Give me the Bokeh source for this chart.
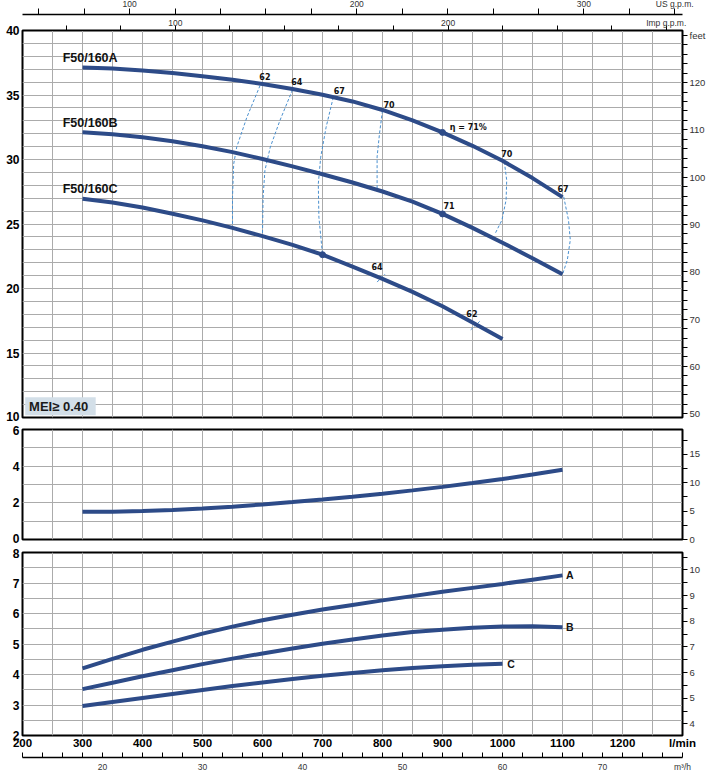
from bokeh.plotting import figure
from bokeh.models import Range1d, LinearAxis, FixedTicker, Label
from bokeh.layouts import column
from bokeh.embed import file_html
from bokeh.resources import INLINE
from bokeh.core.properties import value

# ---------------- data ----------------
flow = [300, 350, 400, 450, 500, 550, 600, 650, 700, 750, 800, 850, 900, 950, 1000, 1050, 1100]
flow_c = flow[:15]

head_a = [37.13, 37.05, 36.90, 36.70, 36.46, 36.18, 35.86, 35.47, 35.02, 34.50, 33.84, 33.04, 32.10, 31.06, 29.90, 28.56, 27.08]
head_b = [32.12, 31.95, 31.72, 31.42, 31.03, 30.57, 30.04, 29.47, 28.86, 28.22, 27.52, 26.73, 25.78, 24.70, 23.55, 22.34, 21.10]
head_c = [26.95, 26.67, 26.28, 25.80, 25.28, 24.70, 24.06, 23.38, 22.62, 21.70, 20.74, 19.74, 18.62, 17.36, 16.08]

power = [1.52, 1.52, 1.55, 1.61, 1.69, 1.79, 1.91, 2.04, 2.18, 2.33, 2.50, 2.68, 2.87, 3.08, 3.30, 3.54, 3.80]

npsh_a = [4.20, 4.51, 4.81, 5.08, 5.34, 5.57, 5.78, 5.96, 6.13, 6.28, 6.43, 6.57, 6.71, 6.84, 6.97, 7.11, 7.25]
npsh_b = [3.52, 3.73, 3.94, 4.14, 4.34, 4.52, 4.69, 4.85, 5.01, 5.15, 5.28, 5.39, 5.47, 5.53, 5.57, 5.58, 5.55]
npsh_c = [2.97, 3.10, 3.23, 3.36, 3.49, 3.62, 3.74, 3.85, 3.96, 4.05, 4.14, 4.21, 4.27, 4.32, 4.35]

curve_names = ["F50/160A", "F50/160B", "F50/160C"]
npsh_names = ["A", "B", "C"]

# iso-efficiency lines (flow l/min, head m)
iso_q = [
    [596, 574, 557, 552, 550, 550],
    [650, 629, 613, 604, 601, 600],
    [718, 706, 697, 693, 694, 700],
    [800, 795, 791, 791],
    [1003, 1007, 1006, 999, 988],
    [1102, 1110, 1113, 1108, 1100],
    [791, 804],
    [947, 962],
]
iso_h = [
    [35.74, 33.28, 30.96, 29.66, 27.08, 24.80],
    [35.40, 33.02, 30.96, 29.15, 27.08, 24.30],
    [34.83, 32.50, 30.18, 28.11, 25.53, 22.64],
    [33.80, 32.00, 30.20, 27.76],
    [29.82, 28.40, 26.86, 25.30, 24.28],
    [27.11, 25.30, 23.76, 22.20, 21.10],
    [20.50, 21.10],
    [16.80, 17.45],
]
eff_text = ["62", "64", "67", "70", "η = 71%", "70", "67", "71", "64", "62"]
eff_q = [604, 657, 728, 811, 943, 1007, 1101, 911, 791, 949]
eff_h = [36.40, 36.03, 35.34, 34.25, 32.50, 30.46, 27.76, 26.44, 21.72, 18.09]

# unit conversions for the secondary scales
IMP_GAL = 4.54609   # litres per Imperial gallon
US_GAL = 3.78541    # litres per US gallon
M3H = 1000 / 60     # l/min per m3/h

# ---------------- styling ----------------
CURVE = "#2d4b88"
ISO = "#4a90cf"
GRID = "#ababab"
SANS = "Liberation Sans"
Q0, Q1 = 200, 1300


def make_fig(height, y0, y1, top, bottom, x_loc=None, **kw):
    p = figure(width=712, height=height, x_range=Range1d(Q0, Q1), y_range=Range1d(y0, y1),
               x_axis_location=x_loc, y_axis_location="left",
               min_border_left=22, min_border_right=30,
               min_border_top=top, min_border_bottom=bottom,
               output_backend="svg", toolbar_location=None, **kw)
    p.outline_line_color = "black"
    p.outline_line_width = 2
    p.background_fill_color = "white"
    p.border_fill_color = "white"
    p.xgrid.ticker = FixedTicker(ticks=list(range(Q0, Q1 + 1, 50)))
    p.xgrid.grid_line_color = GRID
    p.ygrid.grid_line_color = GRID
    return p


def style_left(p, ticks, texts):
    # texts: tick -> label (edge labels are nudged inwards so they stay inside the canvas)
    ax = p.yaxis[0]
    ax.ticker = FixedTicker(ticks=ticks)
    ax.major_label_overrides = texts
    ax.axis_line_color = None
    ax.major_tick_out = 0
    ax.major_tick_in = 0
    ax.minor_tick_line_color = None
    ax.major_label_standoff = 3
    ax.major_label_text_font = SANS
    ax.major_label_text_font_size = "12px"
    ax.major_label_text_font_style = "bold"
    ax.major_label_text_color = "black"


def left_labels(values, nudge):
    ticks, texts = [], {}
    for v in values:
        t = v + nudge.get(v, 0)
        ticks.append(t)
        texts[t] = "%g" % v
    return ticks, texts


def labels_for(ticks, every, last=None):
    d = {}
    for t in ticks:
        d[t] = ("%g" % t) if abs(t / every - round(t / every)) < 1e-9 else ""
    if last is not None:
        d[ticks[-1]] = last
    return d


def style_sec(ax, size="9.5px"):
    ax.major_label_text_font = SANS
    ax.major_label_text_font_size = size
    ax.major_label_text_color = "#333333"
    ax.major_tick_line_color = "black"
    ax.minor_tick_line_color = None


def add_right(p, name, lo, hi, ticks, every, last=None):
    p.extra_y_ranges = {name: Range1d(lo, hi)}
    ax = LinearAxis(y_range_name=name, ticker=FixedTicker(ticks=ticks),
                    major_label_overrides=labels_for(ticks, every, last))
    style_sec(ax)
    ax.major_tick_out = 5
    ax.major_tick_in = 0
    ax.major_label_standoff = 2
    ax.axis_line_color = "black"
    p.add_layout(ax, "right")


# ---------------- head panel ----------------
p1 = make_fig(433, 10, 40, 40, 6, margin=(-10, 0, 0, 0))
style_left(p1, *left_labels(list(range(10, 41, 5)), {10: 0.1}))
p1.ygrid.ticker = FixedTicker(ticks=list(range(10, 41)))
add_right(p1, "ft", 49.2, 131.0, list(range(50, 131, 2)), 10, "feet")

p1.extra_x_ranges = {"imp": Range1d(Q0 / IMP_GAL, Q1 / IMP_GAL), "us": Range1d(Q0 / US_GAL, Q1 / US_GAL)}
imp_ticks = list(range(60, 281, 20))
imp_ax = LinearAxis(x_range_name="imp", ticker=FixedTicker(ticks=imp_ticks),
                    major_label_overrides=labels_for(imp_ticks, 100, "Imp g.p.m."))
style_sec(imp_ax, "8.5px")
imp_ax.major_tick_out = 5
imp_ax.major_tick_in = 0
imp_ax.major_label_standoff = -2
imp_ax.axis_line_color = "black"
p1.add_layout(imp_ax, "above")

us_ticks = list(range(60, 341, 20))
us_ax = LinearAxis(x_range_name="us", ticker=FixedTicker(ticks=us_ticks),
                   major_label_overrides=labels_for(us_ticks, 100, "US g.p.m."))
style_sec(us_ax, "8.5px")
us_ax.major_tick_out = 6
us_ax.major_tick_in = 0
us_ax.major_label_standoff = 0
us_ax.axis_line_color = "black"
us_ax.axis_line_width = 1.5
p1.add_layout(us_ax, "above")

p1.quad(left=[204.5], right=[322], bottom=[10.18], top=[11.57], fill_color="#d3dfe8", line_color=None)
p1.add_layout(Label(x=211, y=10.87, text="MEI≥ 0.40", text_font=SANS,
                    text_font_size="13px", text_font_style="bold", text_color="#1a1a1a",
                    text_baseline="middle", text_align="left"))

p1.multi_line(xs=iso_q, ys=iso_h, line_color=ISO, line_dash="3 2", line_width=1)
for h in (head_a, head_b):
    p1.line(flow, h, line_color=CURVE, line_width=4)
p1.line(flow_c, head_c, line_color=CURVE, line_width=4)
p1.scatter(x=[flow[12], flow[12], flow_c[8]], y=[head_a[12], head_b[12], head_c[8]],
           marker="circle", size=6, color=CURVE)

p1.text(x=[267, 267, 267], y=[head_a[0] + 0.75, head_b[0] + 0.72, head_c[0] + 0.78], text=curve_names,
        text_font=value(SANS), text_font_size="12.5px", text_font_style="bold",
        text_color="#111111", text_align="left", text_baseline="middle")
p1.text(x=eff_q, y=eff_h, text=eff_text, text_font=value("DejaVu Sans"), text_font_size="8px",
        text_font_style="bold", text_color="#111111", text_align="center", text_baseline="middle")

# ---------------- power panel ----------------
p2 = make_fig(122, 0, 6, 6, 6)
style_left(p2, *left_labels([0, 2, 4, 6], {0: 0.08, 6: -0.06}))
p2.ygrid.ticker = FixedTicker(ticks=list(range(0, 7)))
hp_ticks = [i * 2.5 for i in range(8)]
add_right(p2, "hp", 0, 19.4, hp_ticks, 5)
p2.line(flow, power, line_color=CURVE, line_width=4)

# ---------------- NPSH panel ----------------
p3 = make_fig(234, 2, 8, 7, 44, x_loc="below")
style_left(p3, *left_labels(list(range(2, 9)), {8: -0.03}))
p3.ygrid.ticker = FixedTicker(ticks=[2 + 0.5 * i for i in range(13)])
np_ticks = [4 + 0.5 * i for i in range(14)]
add_right(p3, "npft", 3.55, 10.68, np_ticks, 1)

bx = p3.xaxis[0]
q_ticks = list(range(Q0, Q1 + 1, 100))
bx.ticker = FixedTicker(ticks=q_ticks)
bx.major_label_overrides = labels_for(q_ticks, 100, "l/min")
bx.axis_line_color = None
bx.major_tick_out = 0
bx.major_tick_in = 0
bx.minor_tick_line_color = None
bx.major_label_standoff = 1
bx.major_label_text_font = SANS
bx.major_label_text_font_size = "11.5px"
bx.major_label_text_font_style = "bold"
bx.major_label_text_color = "black"
bx.axis_label = "\u00a0"
bx.axis_label_text_font_size = "3px"
bx.axis_label_standoff = 0

p3.extra_x_ranges = {"m3h": Range1d(Q0 / M3H, Q1 / M3H)}
m_ticks = list(range(12, 79, 2))
m_ax = LinearAxis(x_range_name="m3h", ticker=FixedTicker(ticks=m_ticks),
                  major_label_overrides=labels_for(m_ticks, 10, "m³/h"))
style_sec(m_ax, "8.5px")
m_ax.major_tick_in = 5
m_ax.major_tick_out = 0
m_ax.major_label_standoff = 4
m_ax.axis_line_color = "black"
m_ax.axis_line_width = 1.5
p3.add_layout(m_ax, "below")

p3.line(flow, npsh_a, line_color=CURVE, line_width=4)
p3.line(flow, npsh_b, line_color=CURVE, line_width=4)
p3.line(flow_c, npsh_c, line_color=CURVE, line_width=4)
p3.text(x=[flow[-1] + 6, flow[-1] + 6, flow_c[-1] + 8], y=[npsh_a[-1], npsh_b[-1], npsh_c[-1]],
        text=npsh_names, text_font=value(SANS), text_font_size="10.5px", text_font_style="bold",
        text_color="#111111", text_align="left", text_baseline="middle")

layout = column(p1, p2, p3, spacing=0)
open("out.html", "w").write(file_html(layout, INLINE))
